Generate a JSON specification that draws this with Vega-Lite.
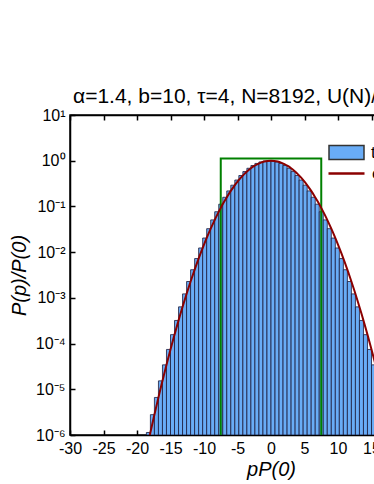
{
  "$schema": "https://vega.github.io/schema/vega-lite/v6.json",
  "width": 402,
  "height": 320,
  "autosize": {"type": "none"},
  "padding": {"left": 70, "top": 115, "right": 0, "bottom": 49},
  "background": "white",
  "config": {
    "font": "Liberation Sans",
    "view": {"stroke": "black", "strokeWidth": 1.5},
    "axis": {"domainColor": "black", "domainWidth": 1.5, "tickColor": "black", "tickWidth": 1.5, "grid": false, "labelFont": "Liberation Sans", "labelColor": "black", "titleColor": "black", "titleFont": "Liberation Sans", "titleFontStyle": "italic", "titleFontWeight": "normal", "titleFontSize": 20, "labelFontSize": 15, "labelOverlap": false, "labelFlush": false},
    "legend": {"labelFont": "Liberation Sans", "labelColor": "black", "labelFontSize": 17}
  },
  "title": {"text": "α=1.4, b=10, τ=4, N=8192, U(N)/N=0.5", "anchor": "start", "frame": "group", "fontSize": 21, "fontWeight": "normal", "font": "Liberation Sans", "color": "black", "offset": 0, "dx": 3},
  "datasets": {
    "bars": [
      {"p0": -18.6, "p1": -18, "h": 1.135e-6},
      {"p0": -18, "p1": -17.4, "h": 2.785e-6},
      {"p0": -17.4, "p1": -16.8, "h": 6.626e-6},
      {"p0": -16.8, "p1": -16.2, "h": 1.5297e-5},
      {"p0": -16.2, "p1": -15.6, "h": 3.425e-5},
      {"p0": -15.6, "p1": -15, "h": 7.44e-5},
      {"p0": -15, "p1": -14.4, "h": 0.00015676},
      {"p0": -14.4, "p1": -13.8, "h": 0.00032039},
      {"p0": -13.8, "p1": -13.2, "h": 0.00063524},
      {"p0": -13.2, "p1": -12.6, "h": 0.0012217},
      {"p0": -12.6, "p1": -12, "h": 0.0022792},
      {"p0": -12, "p1": -11.4, "h": 0.0041249},
      {"p0": -11.4, "p1": -10.8, "h": 0.0072413},
      {"p0": -10.8, "p1": -10.2, "h": 0.012331},
      {"p0": -10.2, "p1": -9.6, "h": 0.02037},
      {"p0": -9.6, "p1": -9, "h": 0.03264},
      {"p0": -9, "p1": -8.4, "h": 0.050736},
      {"p0": -8.4, "p1": -7.8, "h": 0.076502},
      {"p0": -7.8, "p1": -7.2, "h": 0.1119},
      {"p0": -7.2, "p1": -6.6, "h": 0.15876},
      {"p0": -6.6, "p1": -6, "h": 0.21852},
      {"p0": -6, "p1": -5.4, "h": 0.29172},
      {"p0": -5.4, "p1": -4.8, "h": 0.3778},
      {"p0": -4.8, "p1": -4.2, "h": 0.47459},
      {"p0": -4.2, "p1": -3.6, "h": 0.57837},
      {"p0": -3.6, "p1": -3, "h": 0.68368},
      {"p0": -3, "p1": -2.4, "h": 0.78402},
      {"p0": -2.4, "p1": -1.8, "h": 0.87207},
      {"p0": -1.8, "p1": -1.2, "h": 0.94098},
      {"p0": -1.2, "p1": -0.6, "h": 0.98491},
      {"p0": -0.6, "p1": 0, "h": 1},
      {"p0": 0, "p1": 0.6, "h": 0.98491},
      {"p0": 0.6, "p1": 1.2, "h": 0.94098},
      {"p0": 1.2, "p1": 1.8, "h": 0.87207},
      {"p0": 1.8, "p1": 2.4, "h": 0.78402},
      {"p0": 2.4, "p1": 3, "h": 0.68368},
      {"p0": 3, "p1": 3.6, "h": 0.57837},
      {"p0": 3.6, "p1": 4.2, "h": 0.47459},
      {"p0": 4.2, "p1": 4.8, "h": 0.3778},
      {"p0": 4.8, "p1": 5.4, "h": 0.29172},
      {"p0": 5.4, "p1": 6, "h": 0.21852},
      {"p0": 6, "p1": 6.6, "h": 0.15876},
      {"p0": 6.6, "p1": 7.2, "h": 0.1119},
      {"p0": 7.2, "p1": 7.8, "h": 0.076502},
      {"p0": 7.8, "p1": 8.4, "h": 0.050736},
      {"p0": 8.4, "p1": 9, "h": 0.03264},
      {"p0": 9, "p1": 9.6, "h": 0.02037},
      {"p0": 9.6, "p1": 10.2, "h": 0.012331},
      {"p0": 10.2, "p1": 10.8, "h": 0.0072413},
      {"p0": 10.8, "p1": 11.4, "h": 0.0041249},
      {"p0": 11.4, "p1": 12, "h": 0.0022792},
      {"p0": 12, "p1": 12.6, "h": 0.0012217},
      {"p0": 12.6, "p1": 13.2, "h": 0.00063524},
      {"p0": 13.2, "p1": 13.8, "h": 0.00032039},
      {"p0": 13.8, "p1": 14.4, "h": 0.00015676},
      {"p0": 14.4, "p1": 15, "h": 7.44e-5},
      {"p0": 15, "p1": 15.6, "h": 3.425e-5},
      {"p0": 15.6, "p1": 16.2, "h": 1.5297e-5},
      {"p0": 16.2, "p1": 16.8, "h": 6.626e-6},
      {"p0": 16.8, "p1": 17.4, "h": 2.785e-6},
      {"p0": 17.4, "p1": 18, "h": 1.135e-6}
    ],
    "curve": [
      {"x": -19, "y": 2.378e-7}, {"x": -18.5, "y": 5.25e-7}, {"x": -18, "y": 1.135e-6}, {"x": -17.5, "y": 2.403e-6},
      {"x": -17, "y": 4.98e-6}, {"x": -16.5, "y": 1.0106e-5}, {"x": -16, "y": 2.0079e-5}, {"x": -15.5, "y": 3.906e-5},
      {"x": -15, "y": 7.44e-5}, {"x": -14.5, "y": 0.00013874}, {"x": -14, "y": 0.00025332}, {"x": -13.5, "y": 0.00045285},
      {"x": -13, "y": 0.00079259}, {"x": -12.5, "y": 0.0013584}, {"x": -12, "y": 0.0022792}, {"x": -11.5, "y": 0.0037442},
      {"x": -11, "y": 0.0060234}, {"x": -10.5, "y": 0.0094855}, {"x": -10, "y": 0.014627}, {"x": -9.5, "y": 0.022083},
      {"x": -9, "y": 0.03264}, {"x": -8.5, "y": 0.047238}, {"x": -8, "y": 0.06694}, {"x": -7.5, "y": 0.092873},
      {"x": -7, "y": 0.12617}, {"x": -6.5, "y": 0.16781}, {"x": -6, "y": 0.21852}, {"x": -5.5, "y": 0.27858},
      {"x": -5, "y": 0.34777}, {"x": -4.5, "y": 0.42503}, {"x": -4, "y": 0.50864}, {"x": -3.5, "y": 0.59598},
      {"x": -3, "y": 0.68368}, {"x": -2.5, "y": 0.76793}, {"x": -2, "y": 0.84451}, {"x": -1.5, "y": 0.90932},
      {"x": -1, "y": 0.95863}, {"x": -0.5, "y": 0.98949}, {"x": 0, "y": 1}, {"x": 0.5, "y": 0.98949},
      {"x": 1, "y": 0.95863}, {"x": 1.5, "y": 0.90932}, {"x": 2, "y": 0.84451}, {"x": 2.5, "y": 0.76793},
      {"x": 3, "y": 0.68368}, {"x": 3.5, "y": 0.59598}, {"x": 4, "y": 0.50864}, {"x": 4.5, "y": 0.42503},
      {"x": 5, "y": 0.34777}, {"x": 5.5, "y": 0.27858}, {"x": 6, "y": 0.21852}, {"x": 6.5, "y": 0.16781},
      {"x": 7, "y": 0.12617}, {"x": 7.5, "y": 0.092873}, {"x": 8, "y": 0.06694}, {"x": 8.5, "y": 0.047238},
      {"x": 9, "y": 0.03264}, {"x": 9.5, "y": 0.022083}, {"x": 10, "y": 0.014627}, {"x": 10.5, "y": 0.0094855},
      {"x": 11, "y": 0.0060234}, {"x": 11.5, "y": 0.0037442}, {"x": 12, "y": 0.0022792}, {"x": 12.5, "y": 0.0013584},
      {"x": 13, "y": 0.00079259}, {"x": 13.5, "y": 0.00045285}, {"x": 14, "y": 0.00025332}, {"x": 14.5, "y": 0.00013874},
      {"x": 15, "y": 7.44e-5}, {"x": 15.5, "y": 3.906e-5}, {"x": 16, "y": 2.0079e-5}, {"x": 16.5, "y": 1.0106e-5},
      {"x": 17, "y": 4.98e-6}, {"x": 17.5, "y": 2.403e-6}, {"x": 18, "y": 1.135e-6}, {"x": 18.5, "y": 5.25e-7},
      {"x": 19, "y": 2.378e-7}
    ],
    "box": [
      {"i": 0, "x": -7.5, "y": 1e-6},
      {"i": 1, "x": -7.5, "y": 1.12},
      {"i": 2, "x": 7.5, "y": 1.12},
      {"i": 3, "x": 7.5, "y": 1e-6}
    ]
  },
  "layer": [
    {
      "data": {"name": "bars"},
      "mark": {"type": "bar", "stroke": "#1c1c3c", "strokeWidth": 0.8, "clip": true},
      "encoding": {
        "x": {"field": "p0", "type": "quantitative",
          "scale": {"domain": [-30, 30], "nice": false, "zero": false},
          "axis": {"orient": "bottom", "values": [-30, -25, -20, -15, -10, -5, 0, 5, 10, 15, 20, 25, 30], "tickSize": -5, "labelPadding": 10, "labelFontSize": 16, "labelExpr": "'' + datum.value", "title": "pP(0)", "titleY": 40, "titleBaseline": "alphabetic"}},
        "x2": {"field": "p1"},
        "y": {"field": "h", "type": "quantitative",
          "scale": {"type": "log", "domain": [1e-6, 10], "nice": false},
          "axis": {"orient": "left", "values": [1e-6, 1e-5, 1e-4, 1e-3, 1e-2, 1e-1, 1, 10], "tickSize": -5, "labelPadding": 10, "labelFontSize": 16,
            "labelExpr": "datum.value >= 5 ? '10¹' : datum.value >= 0.5 ? '10⁰' : datum.value >= 0.05 ? '10⁻¹' : datum.value >= 0.005 ? '10⁻²' : datum.value >= 0.0005 ? '10⁻³' : datum.value >= 0.00005 ? '10⁻⁴' : datum.value >= 0.000005 ? '10⁻⁵' : '10⁻⁶'",
            "title": "P(p)/P(0)", "titleX": -45, "titleY": 160, "titleBaseline": "alphabetic", "titleAlign": "center"}},
        "y2": {"datum": 1e-6},
        "fill": {"datum": "this work", "type": "nominal", "scale": {"range": ["#69acf6"]},
          "legend": {"orient": "none", "legendX": 258, "legendY": 19, "title": null, "padding": 0, "symbolType": "M-1,-0.4H1V0.4H-1Z", "symbolSize": 1225, "symbolStrokeColor": "#333333", "symbolStrokeWidth": 1.5, "symbolOpacity": 1, "labelOffset": 6, "labelLimit": 400}}
      }
    },
    {
      "data": {"name": "box"},
      "mark": {"type": "line", "stroke": "#008000", "strokeWidth": 2, "clip": true},
      "encoding": {
        "x": {"field": "x", "type": "quantitative",
          "axis": {"orient": "top", "values": [-30, -25, -20, -15, -10, -5, 0, 5, 10, 15, 20, 25, 30], "tickSize": -5, "labels": false, "title": null}},
        "y": {"field": "y", "type": "quantitative"},
        "order": {"field": "i", "type": "quantitative"}
      }
    },
    {
      "data": {"name": "curve"},
      "mark": {"type": "line", "strokeWidth": 2, "clip": true, "interpolate": "monotone"},
      "encoding": {
        "x": {"field": "x", "type": "quantitative", "axis": null},
        "y": {"field": "y", "type": "quantitative"},
        "stroke": {"datum": "continuum", "type": "nominal", "scale": {"range": ["#8b0000"]},
          "legend": {"orient": "none", "legendX": 257, "legendY": 39, "title": null, "padding": 0, "symbolType": "stroke", "symbolSize": 1296, "symbolStrokeWidth": 2.5, "labelOffset": 6, "labelLimit": 400}}
      }
    }
  ],
  "resolve": {"axis": {"x": "independent"}}
}
